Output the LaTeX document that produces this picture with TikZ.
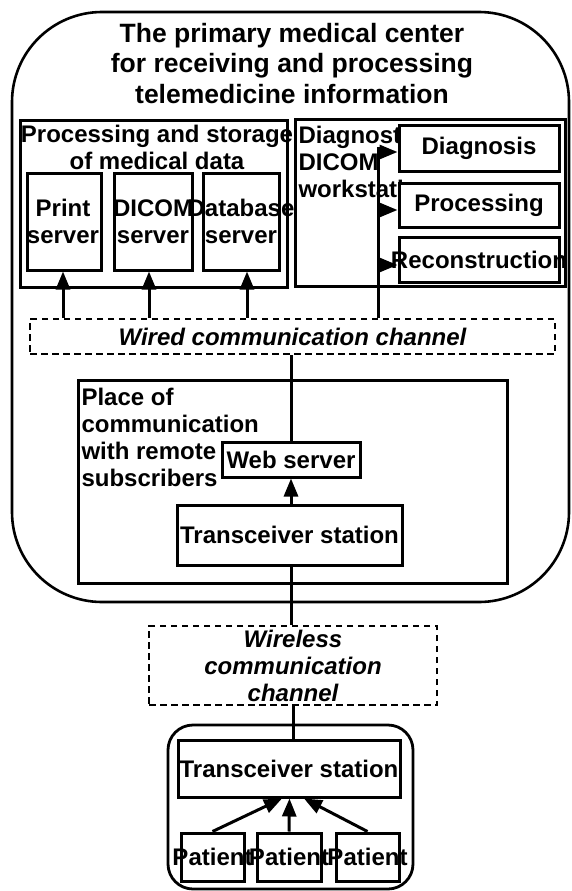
\documentclass[tikz,border=0pt]{standalone}
\usepackage{fontspec}
\setmainfont{Liberation Sans}
\usetikzlibrary{arrows.meta}

\begin{document}
\begin{tikzpicture}[x=1pt, y=-1pt,
  line width=3pt,
  lbl/.style={font=\bfseries\fontsize{24}{27}\selectfont, inner sep=0pt},
  box/.style={draw, line width=3pt, inner sep=0pt},
  wbox/.style={box, fill=white},
  chan/.style={draw, dash pattern=on 6.5pt off 4.5pt, line width=2.6pt, inner sep=0pt,
               font=\bfseries\itshape\fontsize{24}{27}\selectfont, align=center},
  arr/.style={-{Triangle[length=18pt,width=14pt]}, line width=3pt},
]
\useasboundingbox (0,0) rectangle (571,891);

% primary medical center (multi-line labels are placed by their last baseline)
\node[draw, line width=2.6pt, rounded corners=90pt, minimum width=557, minimum height=590] (center) at (290.5,307) {};
\node[lbl, font=\bfseries\fontsize{26.5}{30.5}\selectfont, align=center, anchor=base] (title) at (292,103)
  {The primary medical center\\for receiving and processing\\telemedicine information};

% processing and storage of medical data
\node[box, minimum width=267, minimum height=167] (store) at (153.5,203.5) {};
\node[lbl, align=center, anchor=base] (storetxt) at (157,169) {Processing and storage\\of medical data};
\node[box, minimum width=74, minimum height=97] (print) at (64,221.5) {};
\node[box, minimum width=78, minimum height=97] (dicom) at (153,221.5) {};
\node[box, minimum width=76, minimum height=97] (db) at (241,221.5) {};
\node[lbl, align=center, anchor=base] (printtxt) at (63,243) {Print\\server};
\node[lbl, align=center, anchor=base] (dicomtxt) at (153,243) {DICOM\\server};
\node[lbl, align=center, anchor=base] (dbtxt) at (241,243) {Database\\server};

% diagnostic DICOM workstation
\node[box, minimum width=270, minimum height=167] (diag) at (430,202.5) {};
\node[lbl, align=left, anchor=base west] (diagtxt) at (297,197) {Diagnostic\\DICOM\\workstation};
\node[wbox, minimum width=160, minimum height=46] (diagnosis) at (479,148) {};
\node[wbox, minimum width=160, minimum height=44] (processing) at (479,205) {};
\node[wbox, minimum width=160, minimum height=45] (recon) at (479,259.5) {};
\node[lbl] at (diagnosis.center) {Diagnosis};
\node[lbl] at (processing.center) {Processing};
\node[lbl] at (recon.center) {Reconstruction};

% wired channel
\node[chan, minimum width=525, minimum height=35] (wired) at (292.5,336.5) {Wired communication channel};

\coordinate (bus) at (378,147);
\draw (bus |- wired.north) -- (bus);
\draw[arr] (bus |- 0,152) -- ([yshift=-4pt]diagnosis.west);
\draw[arr] (bus |- 0,210) -- ([yshift=-5pt]processing.west);
\draw[arr] (bus |- 0,265) -- ([yshift=-5.5pt]recon.west);

\draw[arr] ([xshift=-1pt]print.south |- wired.north) -- ([xshift=-1pt]print.south);
\draw[arr] ([xshift=-4pt]dicom.south |- wired.north) -- ([xshift=-4pt]dicom.south);
\draw[arr] ([xshift=6pt]db.south |- wired.north) -- ([xshift=6pt]db.south);

% place of communication with remote subscribers
\node[box, minimum width=429, minimum height=203] (place) at (292.5,481.5) {};
\node[lbl, align=left, anchor=base west] (placetxt) at (80,486)
  {Place of\\communication\\with remote\\subscribers};
\node[box, lbl, minimum width=138, minimum height=35] (web) at (291,459.5) {Web server};
\node[box, lbl, minimum width=225, minimum height=60] (trx) at (289.5,535) {Transceiver station};

\draw (web.north |- wired.south) -- (web.north);
\draw[arr] (web.south |- trx.north) -- (web.south);

% wireless channel
\node[chan, minimum width=288, minimum height=79] (wireless) at (293,665.5) {Wireless\\communication\\channel};
\draw ([xshift=1.5pt]trx.south) -- ([xshift=1.5pt]trx.south |- wireless.north);

% remote subscribers
\node[draw, line width=2.8pt, rounded corners=25pt, minimum width=245, minimum height=164] (remote) at (290.5,807) {};
\node[box, lbl, minimum width=222, minimum height=57] (trxb) at (289,768.5) {Transceiver station};
\draw ([xshift=4pt]trxb.north |- wireless.south) -- ([xshift=4pt]trxb.north);

\node[box, minimum width=63, minimum height=48] (p1) at (212.5,857) {};
\node[box, minimum width=64, minimum height=48] (p2) at (289,857) {};
\node[box, minimum width=63, minimum height=48] (p3) at (367.5,857) {};
\node[lbl] at (p1.center) {Patient};
\node[lbl] at (p2.center) {Patient};
\node[lbl] at (p3.center) {Patient};

\draw[arr] (p1.north) -- ([xshift=-7pt]trxb.south);
\draw[arr] (p2.north) -- ([xshift=0.5pt]trxb.south);
\draw[arr] (p3.north) -- ([xshift=15pt]trxb.south);
\end{tikzpicture}
\end{document}
